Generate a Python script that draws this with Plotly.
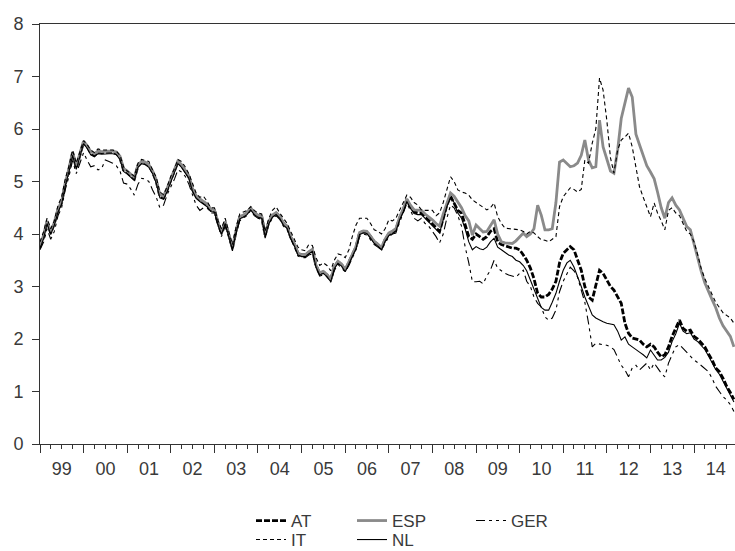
import pandas as pd
import plotly.graph_objects as go

# Monthly observations, Jan 1999 - Dec 2014
months = pd.date_range("1999-01-01", "2014-12-01", freq="MS")

AT = [
    3.75, 3.95, 4.22, 4.02, 4.20, 4.45, 4.60, 4.95, 5.22, 5.54, 5.26, 5.50,
    5.75, 5.66, 5.54, 5.50, 5.56, 5.55, 5.56, 5.56, 5.56, 5.54, 5.45, 5.22,
    5.18, 5.10, 5.05, 5.30, 5.37, 5.35, 5.30, 5.18, 5.00, 4.72, 4.69, 4.84,
    5.03, 5.20, 5.37, 5.30, 5.20, 5.09, 4.85, 4.71, 4.65, 4.60, 4.55, 4.46,
    4.45, 4.20, 4.02, 4.23, 4.00, 3.73, 4.05, 4.32, 4.35, 4.40, 4.49, 4.40,
    4.35, 4.33, 3.98, 4.23, 4.35, 4.40, 4.33, 4.20, 4.14, 3.94, 3.80, 3.63,
    3.60, 3.60, 3.65, 3.70, 3.40, 3.25, 3.28, 3.22, 3.12, 3.37, 3.47, 3.42,
    3.31, 3.45, 3.60, 3.75, 4.02, 4.05, 4.04, 3.95, 3.85, 3.80, 3.73, 3.89,
    4.00, 4.04, 4.08, 4.30, 4.45, 4.65, 4.52, 4.42, 4.40, 4.40, 4.33, 4.27,
    4.20, 4.11, 4.05, 4.30, 4.55, 4.72, 4.60, 4.45, 4.40, 4.20, 3.95, 3.90,
    4.00, 3.95, 3.90, 3.95, 4.05, 4.10, 3.85, 3.80, 3.78, 3.75, 3.73, 3.73,
    3.70, 3.60, 3.50, 3.35, 3.15, 2.87, 2.80, 2.80, 2.85, 2.95, 3.10, 3.45,
    3.63, 3.70, 3.76, 3.70, 3.50, 3.31, 3.00, 2.80, 2.74, 3.00, 3.31, 3.25,
    3.12, 3.00, 2.93, 2.80, 2.68, 2.30, 2.11, 2.02, 2.00, 1.98, 1.90, 1.85,
    1.90, 1.85, 1.75, 1.66, 1.70, 1.85, 2.05, 2.20, 2.36, 2.20, 2.15, 2.17,
    2.05, 2.00, 1.92, 1.85, 1.72, 1.60, 1.45, 1.38, 1.25, 1.10, 0.98, 0.85,
]

ESP = [
    3.78, 3.98, 4.25, 4.05, 4.22, 4.48, 4.62, 4.98, 5.25, 5.56, 5.30, 5.52,
    5.77, 5.68, 5.57, 5.53, 5.58, 5.57, 5.58, 5.58, 5.58, 5.56, 5.48, 5.25,
    5.20, 5.13, 5.08, 5.32, 5.38, 5.37, 5.32, 5.20, 5.03, 4.75, 4.72, 4.87,
    5.05, 5.22, 5.39, 5.32, 5.22, 5.11, 4.87, 4.73, 4.67, 4.62, 4.57, 4.48,
    4.46, 4.22, 4.03, 4.24, 4.01, 3.75, 4.06, 4.33, 4.36, 4.41, 4.50, 4.41,
    4.36, 4.34, 3.99, 4.24, 4.36, 4.41, 4.34, 4.21, 4.15, 3.95, 3.81, 3.64,
    3.60, 3.61, 3.66, 3.71, 3.41, 3.26, 3.29, 3.23, 3.13, 3.38, 3.48, 3.43,
    3.32, 3.46, 3.61, 3.76, 4.03, 4.06, 4.05, 3.96, 3.86, 3.81, 3.74, 3.90,
    4.02, 4.06, 4.10, 4.32, 4.47, 4.67, 4.55, 4.46, 4.45, 4.45, 4.38, 4.33,
    4.27, 4.20, 4.15, 4.38, 4.60, 4.78, 4.72, 4.60, 4.50, 4.35, 4.25, 3.98,
    4.17, 4.10, 4.04, 4.05, 4.15, 4.27, 4.00, 3.85, 3.83, 3.82, 3.82, 3.87,
    3.95, 4.02, 3.95, 4.00, 4.10, 4.55, 4.36, 4.08, 4.08, 4.10, 4.60, 5.37,
    5.41, 5.35, 5.28, 5.30, 5.35, 5.50, 5.79, 5.41, 5.26, 5.28, 6.17, 5.66,
    5.41, 5.20, 5.16, 5.60, 6.20, 6.50, 6.78, 6.61, 5.90, 5.70, 5.50, 5.30,
    5.18, 5.05, 4.80, 4.50, 4.30, 4.60, 4.69, 4.55, 4.46, 4.30, 4.14, 4.08,
    3.80, 3.50, 3.30, 3.07, 2.90, 2.75, 2.60, 2.40, 2.25, 2.15, 2.05, 1.85,
]

GER = [
    3.70, 3.85, 4.10, 3.90, 4.05, 4.35, 4.50, 4.85, 5.10, 5.40, 5.15, 5.35,
    5.55, 5.40, 5.28, 5.30, 5.22, 5.25, 5.41, 5.38, 5.35, 5.30, 5.20, 4.97,
    4.95, 4.85, 4.74, 4.95, 5.06, 5.05, 5.00, 4.84, 4.70, 4.50, 4.55, 4.75,
    4.90, 5.05, 5.22, 5.18, 5.10, 4.95, 4.75, 4.55, 4.45, 4.50, 4.50, 4.40,
    4.40, 4.15, 3.95, 4.15, 3.95, 3.68, 4.00, 4.25, 4.30, 4.35, 4.45, 4.35,
    4.30, 4.28, 3.92, 4.18, 4.30, 4.35, 4.28, 4.15, 4.08, 3.90, 3.75, 3.58,
    3.55, 3.55, 3.60, 3.62, 3.35, 3.20, 3.22, 3.18, 3.08, 3.30, 3.42, 3.35,
    3.28, 3.40, 3.55, 3.70, 3.95, 4.00, 3.98, 3.90, 3.80, 3.75, 3.70, 3.82,
    3.95, 4.00, 4.02, 4.22, 4.38, 4.58, 4.45, 4.30, 4.25, 4.30, 4.20, 4.15,
    4.05, 3.95, 3.83, 4.00, 4.30, 4.55, 4.50, 4.35, 4.15, 3.76, 3.45, 3.09,
    3.09, 3.10, 3.05, 3.20, 3.31, 3.50, 3.35, 3.30, 3.25, 3.22, 3.20, 3.18,
    3.25, 3.31, 3.10, 3.00, 2.80, 2.68, 2.61, 2.42, 2.36, 2.40, 2.55, 2.90,
    3.10, 3.25, 3.37, 3.30, 3.18, 2.93, 2.70, 2.30, 1.85, 1.92, 1.90, 1.89,
    1.88, 1.85, 1.80, 1.64, 1.50, 1.41, 1.28, 1.45, 1.50, 1.41, 1.48, 1.54,
    1.41, 1.54, 1.45, 1.35, 1.28, 1.54, 1.70, 1.85, 1.89, 1.82, 1.75, 1.66,
    1.60, 1.55, 1.50, 1.45, 1.38, 1.25, 1.10, 1.00, 0.90, 0.84, 0.75, 0.62,
]

IT = [
    3.85, 4.05, 4.30, 4.10, 4.25, 4.55, 4.70, 5.05, 5.30, 5.60, 5.35, 5.55,
    5.78, 5.70, 5.60, 5.55, 5.62, 5.60, 5.60, 5.60, 5.60, 5.58, 5.50, 5.28,
    5.20, 5.15, 5.10, 5.35, 5.42, 5.40, 5.38, 5.22, 5.08, 4.80, 4.75, 4.90,
    5.10, 5.25, 5.42, 5.38, 5.28, 5.15, 4.95, 4.78, 4.70, 4.72, 4.62, 4.50,
    4.50, 4.25, 4.10, 4.30, 4.05, 3.80, 4.12, 4.38, 4.42, 4.45, 4.52, 4.45,
    4.40, 4.38, 4.05, 4.30, 4.45, 4.52, 4.40, 4.30, 4.20, 4.05, 3.90, 3.75,
    3.70, 3.68, 3.80, 3.78, 3.55, 3.40, 3.45, 3.40, 3.30, 3.50, 3.62, 3.60,
    3.55, 3.70, 3.95, 4.17, 4.30, 4.30, 4.30, 4.20, 4.08, 4.05, 4.00, 4.10,
    4.27, 4.25, 4.30, 4.45, 4.60, 4.74, 4.70, 4.60, 4.55, 4.46, 4.45, 4.45,
    4.45, 4.35, 4.40, 4.60, 4.85, 5.09, 5.00, 4.84, 4.80, 4.78, 4.74, 4.65,
    4.60, 4.55, 4.50, 4.46, 4.50, 4.59, 4.33, 4.20, 4.11, 4.10, 4.10, 4.08,
    4.08, 4.05, 4.00, 4.05, 4.02, 3.95, 3.89, 3.88, 3.85, 3.90, 3.95, 4.52,
    4.71, 4.80, 4.88, 4.85, 4.80, 4.85, 5.41, 5.35, 5.73, 6.00, 6.97, 6.74,
    6.17, 5.45, 5.16, 5.60, 5.79, 5.85, 5.92, 5.66, 5.30, 4.90, 4.70, 4.50,
    4.33, 4.59, 4.40, 4.25, 4.08, 4.45, 4.50, 4.40, 4.35, 4.20, 4.05, 4.00,
    3.85, 3.60, 3.35, 3.15, 3.00, 2.85, 2.70, 2.60, 2.50, 2.45, 2.40, 2.30,
]

NL = [
    3.72, 3.92, 4.20, 3.99, 4.17, 4.42, 4.57, 4.92, 5.19, 5.50, 5.23, 5.47,
    5.72, 5.63, 5.51, 5.47, 5.53, 5.52, 5.53, 5.53, 5.53, 5.51, 5.42, 5.19,
    5.14, 5.07, 5.02, 5.27, 5.34, 5.32, 5.27, 5.15, 4.97, 4.69, 4.66, 4.81,
    5.00, 5.17, 5.34, 5.27, 5.17, 5.06, 4.82, 4.68, 4.62, 4.57, 4.52, 4.43,
    4.42, 4.17, 3.99, 4.20, 3.97, 3.70, 4.02, 4.29, 4.32, 4.37, 4.46, 4.37,
    4.32, 4.30, 3.95, 4.20, 4.32, 4.37, 4.30, 4.17, 4.11, 3.91, 3.77, 3.60,
    3.57, 3.57, 3.62, 3.67, 3.37, 3.22, 3.25, 3.19, 3.09, 3.34, 3.44, 3.39,
    3.28, 3.42, 3.57, 3.72, 3.99, 4.02, 4.01, 3.92, 3.82, 3.77, 3.70, 3.86,
    3.97, 4.01, 4.05, 4.27, 4.42, 4.62, 4.49, 4.39, 4.37, 4.37, 4.30, 4.24,
    4.17, 4.08, 4.02, 4.27, 4.52, 4.70, 4.60, 4.40, 4.30, 4.10, 3.85, 3.70,
    3.76, 3.72, 3.70, 3.75, 3.85, 3.92, 3.75, 3.70, 3.65, 3.60, 3.57, 3.50,
    3.47, 3.40, 3.30, 3.12, 2.95, 2.74, 2.60, 2.55, 2.55, 2.70, 2.87, 3.10,
    3.31, 3.45, 3.50, 3.37, 3.20, 3.00, 2.80, 2.61, 2.46, 2.40, 2.36, 2.33,
    2.30, 2.28, 2.27, 2.15, 1.98, 2.04, 1.90, 1.85, 1.79, 1.75, 1.70, 1.64,
    1.79, 1.70, 1.60, 1.60, 1.65, 1.75, 1.95, 2.10, 2.30, 2.15, 2.10, 2.12,
    2.00, 1.95, 1.88, 1.80, 1.68, 1.56, 1.42, 1.33, 1.20, 1.05, 0.93, 0.80,
]

Y_TICKS = [0, 1, 2, 3, 4, 5, 6, 7, 8]

FONT = "Liberation Sans, Arial, sans-serif"
TXT = "#3a3a3a"
FS = 18
LFS = 17

fig = go.Figure()

series = [
    ("AT", AT, dict(color="#000000", width=2.8, dash="6px,2px"), "legend"),
    ("ESP", ESP, dict(color="#8a8a8a", width=2.8), "legend2"),
    ("GER", GER, dict(color="#000000", width=1.1, dash="9px,4px,3px,4px,3px,4px"), "legend3"),
    ("IT", IT, dict(color="#000000", width=1.1, dash="4px,3px"), "legend4"),
    ("NL", NL, dict(color="#000000", width=1.1), "legend5"),
]
for name, vals, line, lg in series:
    fig.add_trace(go.Scatter(x=months, y=vals, mode="lines", name=name,
                             line=line, legend=lg))

def leg(x_px, y_px):
    return dict(xref="container", yref="container",
                x=x_px / 735, y=1 - y_px / 551,
                xanchor="left", yanchor="middle",
                font=dict(family=FONT, size=LFS, color=TXT),
                bgcolor="rgba(0,0,0,0)", borderwidth=0,
                itemwidth=30)

fig.update_layout(
    width=735, height=551,
    margin=dict(l=40, r=0, t=24, b=107, autoexpand=False),
    paper_bgcolor="white", plot_bgcolor="white",
    font=dict(family=FONT, size=FS, color=TXT),
    showlegend=True,
    legend=leg(251, 521),
    legend2=leg(352, 521),
    legend3=leg(471, 521),
    legend4=leg(251, 540),
    legend5=leg(352, 540),
    xaxis=dict(
        type="date",
        range=["1999-01-01", "2014-12-10"],
        tick0="1999-01-01", dtick="M12", tickformat="%y",
        ticklabelmode="period",
        ticks="outside", ticklen=8, tickwidth=1, tickcolor="#333",
        minor=dict(dtick="M3", ticks="outside", ticklen=4, tickcolor="#333", tickwidth=1),
        showline=True, linecolor="#333", linewidth=1, mirror=True,
        showgrid=False, zeroline=False,
        tickfont=dict(family=FONT, size=FS, color=TXT),
    ),
    yaxis=dict(
        range=[0, 8], tickvals=Y_TICKS,
        ticks="outside", ticklen=7, tickwidth=1, tickcolor="#333",
        ticklabelstandoff=5,
        showline=True, linecolor="#333", linewidth=1,
        showgrid=False, zeroline=False,
        tickfont=dict(family=FONT, size=FS, color=TXT),
    ),
)

fig.write_html("out.html")
